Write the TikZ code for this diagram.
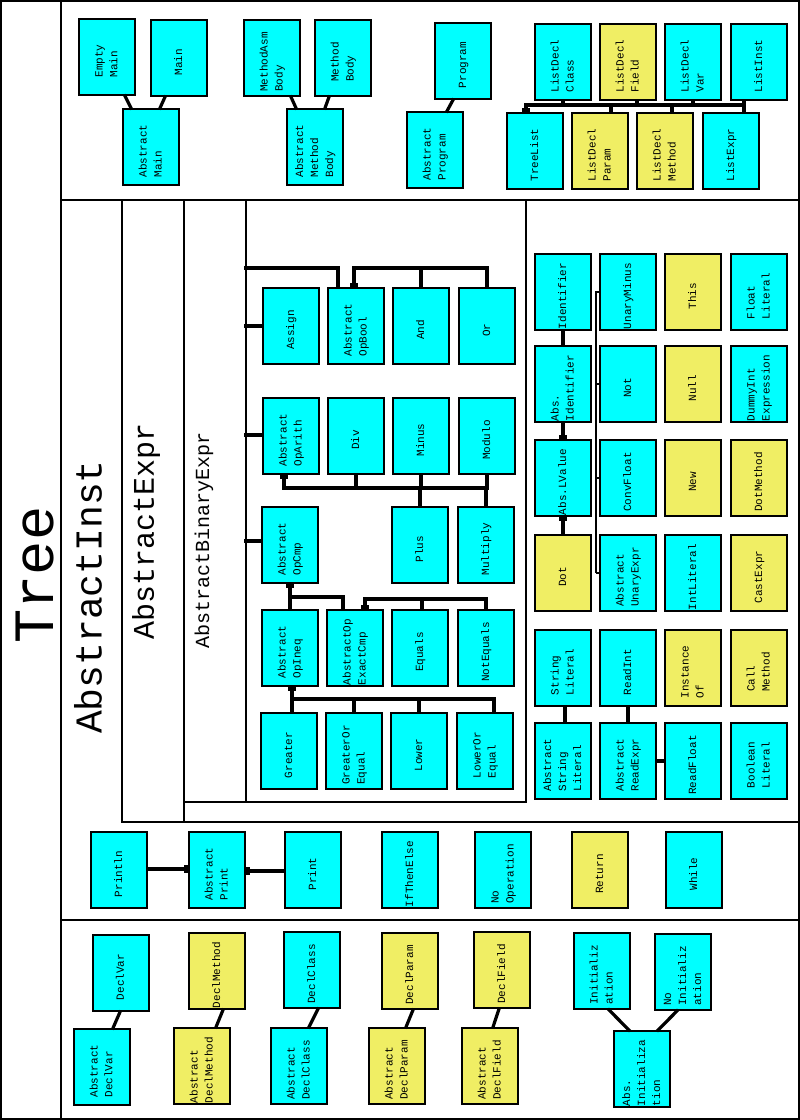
\documentclass[tikz,border=0pt]{standalone}
\usepackage{fontspec}
\usepackage{graphicx}
\newfontfamily\cour{Liberation Mono}
\usetikzlibrary{arrows.meta}
\definecolor{cy}{RGB}{0,255,255}
\definecolor{ye}{RGB}{240,238,100}
\newcommand\bt[1]{\rotatebox{90}{\begin{tabular}{@{}l@{}}#1\end{tabular}\hspace*{8pt}}}
\begin{document}
\begin{tikzpicture}[x=1pt,y=-1pt,
  box/.style={draw, line width=2.4pt, fill=cy, minimum width=55.5pt, minimum height=75.5pt, inner sep=0pt, font=\cour\fontsize{11}{15}\selectfont},
  ybox/.style={box, fill=ye},
  frm/.style={line width=2.2pt, line cap=rect},
  conn/.style={line width=3.2pt, line cap=rect},
  sq/.style={-{Rectangle[length=4pt,width=8.5pt]}},
  thinconn/.style={line width=1.1pt},
  big/.style={rotate=90, inner sep=0pt}]
\useasboundingbox (0,0) rectangle (800,1120);
% frames
\draw[frm] (1,1) rectangle (799,1119);
\draw[frm] (61,0) -- (61,1120);
\draw[frm] (61,200) -- (800,200);
\draw[frm] (61,920) -- (800,920);
\draw[frm] (122,200) -- (122,822) -- (800,822);
\draw[frm] (184,200) -- (184,822);
\draw[frm] (184,802) -- (526,802) -- (526,200);
\draw[frm] (246,200) -- (246,802);
% big labels
\node[big, font=\cour\fontsize{57}{57}\selectfont] (tree) at (35,575) {Tree};
\node[big, font=\cour\fontsize{38}{38}\selectfont] (abstractinst) at (88,597) {AbstractInst};
\node[big, font=\cour\fontsize{30}{30}\selectfont] (abstractexpr) at (146,531) {AbstractExpr};
\node[big, font=\cour\fontsize{20}{20}\selectfont] (abstractbinaryexpr) at (204,540) {AbstractBinaryExpr};
% top section
\node[box] (emptymain) at (107,57) {\bt{Empty\\Main}};
\node[box] (main) at (179,58) {\bt{Main}};
\node[box] (absmain) at (151,147) {\bt{Abstract\\Main}};
\node[box] (methodasmbody) at (272,58) {\bt{MethodAsm\\Body}};
\node[box] (methodbody) at (343,58) {\bt{Method\\Body}};
\node[box] (absmethodbody) at (315,147) {\bt{Abstract\\Method\\Body}};
\node[box] (program) at (463,61) {\bt{Program}};
\node[box] (absprogram) at (435,150) {\bt{Abstract\\Program}};
\node[box] (ldclass) at (563,62) {\bt{ListDecl\\Class}};
\node[ybox] (ldfield) at (628,62) {\bt{ListDecl\\Field}};
\node[box] (ldvar) at (693,62) {\bt{ListDecl\\Var}};
\node[box] (listinst) at (759,62) {\bt{ListInst}};
\node[box] (treelist) at (535,151) {\bt{TreeList}};
\node[ybox] (ldparam) at (600,151) {\bt{ListDecl\\Param}};
\node[ybox] (ldmethod) at (665,151) {\bt{ListDecl\\Method}};
\node[box] (listexpr) at (731,151) {\bt{ListExpr}};
% binary section
\node[box] (assign) at (291,326) {\bt{Assign}};
\node[box] (absopbool) at (356,326) {\bt{Abstract\\OpBool}};
\node[box] (and) at (421,326) {\bt{And}};
\node[box] (or) at (487,326) {\bt{Or}};
\node[box] (absoparith) at (291,436) {\bt{Abstract\\OpArith}};
\node[box] (div) at (356,436) {\bt{Div}};
\node[box] (minus) at (421,436) {\bt{Minus}};
\node[box] (modulo) at (487,436) {\bt{Modulo}};
\node[box] (absopcmp) at (290,545) {\bt{Abstract\\OpCmp}};
\node[box] (plus) at (420,545) {\bt{Plus}};
\node[box] (multiply) at (486,545) {\bt{Multiply}};
\node[box] (absopineq) at (290,648) {\bt{Abstract\\OpIneq}};
\node[box] (absopexactcmp) at (355,648) {\bt{AbstractOp\\ExactCmp}};
\node[box] (equals) at (420,648) {\bt{Equals}};
\node[box] (notequals) at (486,648) {\bt{NotEquals}};
\node[box] (greater) at (289,751) {\bt{Greater}};
\node[box] (greaterorequal) at (354,751) {\bt{GreaterOr\\Equal}};
\node[box] (lower) at (419,751) {\bt{Lower}};
\node[box] (lowerorequal) at (485,751) {\bt{LowerOr\\Equal}};
% right panel
\node[box] (identifier) at (563,292) {\bt{Identifier}};
\node[box] (unaryminus) at (628,292) {\bt{UnaryMinus}};
\node[ybox] (this) at (693,292) {\bt{This}};
\node[box] (floatliteral) at (759,292) {\bt{Float\\Literal}};
\node[box] (absidentifier) at (563,384) {\bt{Abs.\\Identifier}};
\node[box] (not) at (628,384) {\bt{Not}};
\node[ybox] (null) at (693,384) {\bt{Null}};
\node[box] (dummyint) at (759,384) {\bt{DummyInt\\Expression}};
\node[box] (abslvalue) at (563,478) {\bt{Abs.LValue}};
\node[box] (convfloat) at (628,478) {\bt{ConvFloat}};
\node[ybox] (new) at (693,478) {\bt{New}};
\node[ybox] (dotmethod) at (759,478) {\bt{DotMethod}};
\node[ybox] (dot) at (563,573) {\bt{Dot}};
\node[box] (absunaryexpr) at (628,573) {\bt{Abstract\\UnaryExpr}};
\node[box] (intliteral) at (693,573) {\bt{IntLiteral}};
\node[ybox] (castexpr) at (759,573) {\bt{CastExpr}};
\node[box] (stringliteral) at (563,668) {\bt{String\\Literal}};
\node[box] (readint) at (628,668) {\bt{ReadInt}};
\node[ybox] (instanceof) at (693,668) {\bt{Instance\\Of}};
\node[ybox] (callmethod) at (759,668) {\bt{Call\\Method}};
\node[box] (absstringliteral) at (563,761) {\bt{Abstract\\String\\Literal}};
\node[box] (absreadexpr) at (628,761) {\bt{Abstract\\ReadExpr}};
\node[box] (readfloat) at (693,761) {\bt{ReadFloat}};
\node[box] (booleanliteral) at (759,761) {\bt{Boolean\\Literal}};
% print row
\node[box] (println) at (119,870) {\bt{Println}};
\node[box] (absprint) at (217,870) {\bt{Abstract\\Print}};
\node[box] (print) at (313,870) {\bt{Print}};
\node[box] (ifthenelse) at (410,870) {\bt{IfThenElse}};
\node[box] (nooperation) at (503,870) {\bt{No\\Operation}};
\node[ybox] (return) at (600,870) {\bt{Return}};
\node[box] (while) at (694,870) {\bt{While}};
% bottom section
\node[box] (declvar) at (121,973) {\bt{DeclVar}};
\node[box] (absdeclvar) at (102,1067) {\bt{Abstract\\DeclVar}};
\node[ybox] (declmethod) at (217,971) {\bt{DeclMethod}};
\node[ybox] (absdeclmethod) at (202,1066) {\bt{Abstract\\DeclMethod}};
\node[box] (declclass) at (312,970) {\bt{DeclClass}};
\node[box] (absdeclclass) at (299,1066) {\bt{Abstract\\DeclClass}};
\node[ybox] (declparam) at (410,971) {\bt{DeclParam}};
\node[ybox] (absdeclparam) at (397,1066) {\bt{Abstract\\DeclParam}};
\node[ybox] (declfield) at (502,970) {\bt{DeclField}};
\node[ybox] (absdeclfield) at (490,1066) {\bt{Abstract\\DeclField}};
\node[box] (initialization) at (602,971) {\bt{Initializ\\ation}};
\node[box] (noinitialization) at (683,972) {\bt{No\\Initializ\\ation}};
\node[box] (absinitialization) at (642,1069) {\bt{Abs.\\Initializa\\tion}};
% coordinates
\coordinate (lbus) at (526,105);
\coordinate (binA) at (246,268);
\coordinate (binB) at (246,326);
\coordinate (binC) at (246,435);
\coordinate (binD) at (246,541);
\coordinate (boolbus) at (354,268);
\coordinate (aritbus) at (284,488);
\coordinate (cmpj) at (290,597);
\coordinate (exbus) at (365,599);
\coordinate (inbus) at (292,699);
\coordinate (ub) at (596,573);
% top connectors
\draw[conn] ([xshift=18pt]emptymain.south) -- ([xshift=-20pt]absmain.north);
\draw[conn] ([xshift=-14pt]main.south) -- ([xshift=9pt]absmain.north);
\draw[conn] ([xshift=19pt]methodasmbody.south) -- ([xshift=-19pt]absmethodbody.north);
\draw[conn] ([xshift=-14pt]methodbody.south) -- ([xshift=10pt]absmethodbody.north);
\draw[conn] ([xshift=-10pt]program.south) -- ([xshift=12pt]absprogram.north);
\draw[conn] (ldclass.south) |- (lbus);
\draw[conn] ([xshift=9pt]ldfield.south) |- (lbus);
\draw[conn] (ldvar.south) |- (lbus);
\draw[conn] ([xshift=-15pt]listinst.south) |- (lbus);
\draw[conn] ([xshift=11pt]ldparam.north) |- (lbus);
\draw[conn] ([xshift=7pt]ldmethod.north) |- (lbus);
\draw[conn] ([xshift=13pt]listexpr.north) |- (lbus);
\draw[conn,sq] (lbus) -- ([xshift=-9pt]treelist.north);
% binary connectors
\draw[conn] (binA) -| ([xshift=-18pt]absopbool.north);
\draw[conn] (binB) -- (binB -| assign.west);
\draw[conn] (binC) -- (binC -| absoparith.west);
\draw[conn] (binD) -- (binD -| absopcmp.west);
\draw[conn] (and.north) |- (boolbus);
\draw[conn] (or.north) |- (boolbus);
\draw[conn,sq] (boolbus) -- (boolbus |- absopbool.north);
\draw[conn] (div.south) |- (aritbus);
\draw[conn] (minus.south) |- (aritbus);
\draw[conn] (modulo.south) |- (aritbus);
\draw[conn] (plus.north) |- (aritbus);
\draw[conn] (multiply.north) |- (aritbus);
\draw[conn,sq] (aritbus) -- (aritbus |- absoparith.south);
\draw[conn,sq] (absopineq.north) -- (absopcmp.south);
\draw[conn] ([xshift=-12pt]absopexactcmp.north) |- (cmpj);
\draw[conn] ([xshift=2pt]equals.north) |- (exbus);
\draw[conn] (notequals.north) |- (exbus);
\draw[conn,sq] (exbus) -- (exbus |- absopexactcmp.north);
\draw[conn] (greater.north -| inbus) -- (inbus);
\draw[conn] (greaterorequal.north) |- (inbus);
\draw[conn] (lower.north) |- (inbus);
\draw[conn] ([xshift=9pt]lowerorequal.north) |- (inbus);
\draw[conn,sq] (inbus) -- (inbus |- absopineq.south);
% right panel connectors
\draw[conn] (identifier.south) -- (absidentifier.north);
\draw[conn,sq] (absidentifier.south) -- (abslvalue.north);
\draw[conn,sq] (dot.north) -- (abslvalue.south);
\draw[thinconn] (unaryminus.west) -| (ub);
\draw[thinconn] (not.west) -| (ub);
\draw[thinconn] (convfloat.west) -| (ub);
\draw[thinconn] (ub) -- (absunaryexpr.west);
\draw[conn] ([xshift=2pt]stringliteral.south) -- ([xshift=2pt]absstringliteral.north);
\draw[conn] (readint.south) -- (absreadexpr.north);
\draw[conn] (readfloat.west) -- (absreadexpr.east);
% print connectors
\draw[conn,sq] ([yshift=1pt]println.east) -- ([yshift=1pt]absprint.west);
\draw[conn,sq] ([yshift=-1pt]print.west) -- ([yshift=-1pt]absprint.east);
% bottom connectors
\draw[conn] ([xshift=-1pt]declvar.south) -- ([xshift=11pt]absdeclvar.north);
\draw[conn] ([xshift=6pt]declmethod.south) -- ([xshift=14pt]absdeclmethod.north);
\draw[conn] ([xshift=6pt]declclass.south) -- ([xshift=10pt]absdeclclass.north);
\draw[conn] ([xshift=3pt]declparam.south) -- ([xshift=9pt]absdeclparam.north);
\draw[conn] ([xshift=-3pt]declfield.south) -- ([xshift=3pt]absdeclfield.north);
\draw[conn] ([xshift=7pt]initialization.south) -- ([xshift=-13pt]absinitialization.north);
\draw[conn] ([xshift=-6pt]noinitialization.south) -- ([xshift=16pt]absinitialization.north);
\end{tikzpicture}
\end{document}
